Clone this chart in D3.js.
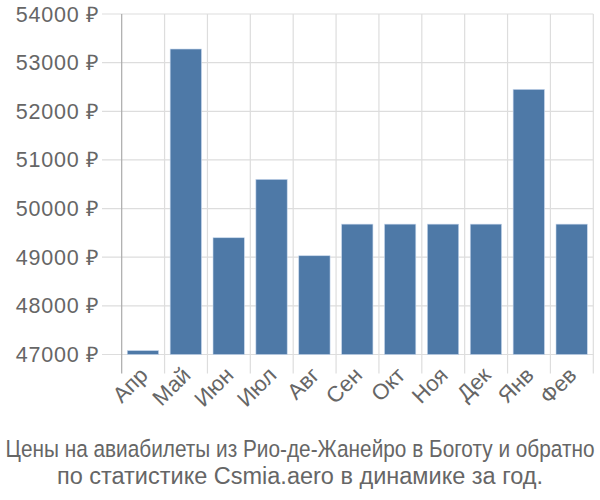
<!DOCTYPE html>
<html><head><meta charset="utf-8">
<script src="https://cdn.jsdelivr.net/npm/d3@7"></script>
<style>body{margin:0;background:#fff;} text{font-family:"Liberation Sans",Arial,sans-serif;}</style>
</head><body>
<svg id="c" width="600" height="500"></svg>
<script>
const months = ["Апр","Май","Июн","Июл","Авг","Сен","Окт","Ноя","Дек","Янв","Фев"];
const prices = [47080, 53280, 49400, 50600, 49030, 49680, 49680, 49680, 49680, 52450, 49680];
const yTicks = [47000, 48000, 49000, 50000, 51000, 52000, 53000, 54000];
const titleLines = ["Цены на авиабилеты из Рио-де-Жанейро в Боготу и обратно", "по статистике Csmia.aero в динамике за год."];

(function () {
const svg = d3.select("#c");
const mLeft = 121.7, mRight = 593.3, mTop = 14, mBottom = 354.5;
const x = d3.scaleBand().domain(months).range([mLeft, mRight]).padding(0);
const y = d3.scaleLinear().domain([47000, 54000]).range([mBottom, mTop]);

// horizontal grid
svg.append("g").selectAll("line").data(yTicks).join("line")
  .attr("x1", 102).attr("x2", mRight)
  .attr("y1", d => y(d)).attr("y2", d => y(d))
  .attr("stroke", "#ddd").attr("stroke-width", 1.2);
// vertical grid
const bounds = months.map(m => x(m)).concat([mRight]);
svg.append("g").selectAll("line").data(bounds.slice(1)).join("line")
  .attr("x1", d => d).attr("x2", d => d)
  .attr("y1", mTop).attr("y2", mBottom + 19)
  .attr("stroke", "#ddd").attr("stroke-width", 1.2);
// y axis line
svg.append("line").attr("x1", mLeft).attr("x2", mLeft).attr("y1", mTop).attr("y2", mBottom + 19)
  .attr("stroke", "#aaa").attr("stroke-width", 1.2);

// bars
const bw = x.bandwidth();
svg.append("g").selectAll("rect").data(prices).join("rect")
  .attr("x", (d, i) => x(months[i]) + bw * 0.13)
  .attr("width", bw * 0.73)
  .attr("y", d => y(d))
  .attr("height", d => y(47000) - y(d))
  .attr("fill", "#4e79a7")
  .attr("stroke", "#c5d6ec").attr("stroke-width", 0.6);

// y tick labels
svg.append("g").selectAll("text").data(yTicks).join("text")
  .attr("x", 100).attr("y", d => y(d)).attr("dy", "0.35em")
  .attr("text-anchor", "end").attr("fill", "#666").attr("font-size", 21.5)
  .attr("letter-spacing", 0.8)
  .text(d => d + " ₽");

// x labels
svg.append("g").selectAll("text").data(months).join("text")
  .attr("transform", m => `translate(${x(m) + bw / 2 + 6},${mBottom + 22}) rotate(-45)`)
  .attr("text-anchor", "end").attr("fill", "#666").attr("font-size", 22)
  .text(m => m);

// title
const sizes = [20.8, 23.5];
const yScale = [1.12, 1];
svg.append("g").selectAll("text").data(titleLines).join("text")
  .attr("transform", (d, i) => `translate(300,${457 + i * 27}) scale(1,${yScale[i]})`)
  .attr("text-anchor", "middle").attr("fill", "#666")
  .attr("font-size", (d, i) => sizes[i])
  .text(d => d);
})();
</script>
</body></html>
